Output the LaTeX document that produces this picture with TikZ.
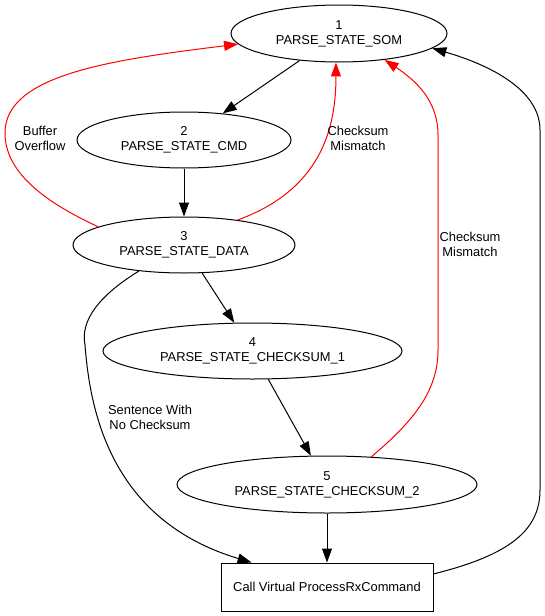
\documentclass[tikz,border=0pt]{standalone}
\usepackage{fontspec}
\setmainfont{Liberation Sans}
\usetikzlibrary{shapes.geometric,arrows.meta}
\begin{document}
\begin{tikzpicture}[x=1pt,y=-1pt,
  every node/.style={font=\fontsize{12.9}{15}\selectfont, align=center},
  state/.style={draw, ellipse, line width=1pt, inner sep=0pt},
  procbox/.style={draw, rectangle, line width=1pt, inner sep=0pt, minimum width=212pt, minimum height=48pt},
  lbl/.style={inner sep=0pt},
  edge/.style={line width=1pt, -{Triangle[length=14pt,width=10pt]}},
  redge/.style={edge, red}]
\useasboundingbox (0,0) rectangle (544,616);

\node[state, minimum width=216pt, minimum height=57pt] (n1) at (339,33.5) {1\\PARSE\_STATE\_SOM};
\node[state, minimum width=214pt, minimum height=56pt] (n2) at (184,140) {2\\PARSE\_STATE\_CMD};
\node[state, minimum width=222pt, minimum height=56pt] (n3) at (184,245) {3\\PARSE\_STATE\_DATA};
\node[state, minimum width=299pt, minimum height=56pt] (n4) at (252.5,351) {4\\PARSE\_STATE\_CHECKSUM\_1};
\node[state, minimum width=300pt, minimum height=57pt] (n5) at (327,484.5) {5\\PARSE\_STATE\_CHECKSUM\_2};
\node[procbox] (cb) at (327,587) {Call Virtual ProcessRxCommand};

\draw[edge] (n1) -- (n2);
\draw[edge] (n2) -- (n3);
\draw[edge] (n3) -- (n4);
\draw[edge] (n4) -- (n5);
\draw[edge] (n5) -- (cb);

\draw[redge] (n3.168) .. controls (40,200) and (5,170) .. (5,133)
  .. controls (5,75) and (110,60) .. (n1.186.8);
\node[lbl] (lbuf) at (40,138) {Buffer\\Overflow};

\draw[redge] (n3.25.7) .. controls (320,190) and (336,130) .. (n1.264);
\node[lbl] (lcs1) at (358,138) {Checksum\\Mismatch};

\draw[redge] (n5.32.6) .. controls (415,420) and (438,390) .. (438,350)
  -- (438,135) .. controls (438,100) and (415,80) .. (n1.330.1);
\node[lbl] (lcs2) at (470,244) {Checksum\\Mismatch};

\draw[edge] (n3.210) .. controls (100,295) and (80,320) .. (85,345)
  .. controls (90,410) and (110,520) .. (cb.162.7);
\node[lbl] (lsent) at (150,417) {Sentence With\\No Checksum};

\draw[edge] (cb.7.5) .. controls (510,555) and (540,530) .. (540,490)
  -- (540,130) .. controls (540,90) and (490,65) .. (n1.351.8);
\end{tikzpicture}
\end{document}
